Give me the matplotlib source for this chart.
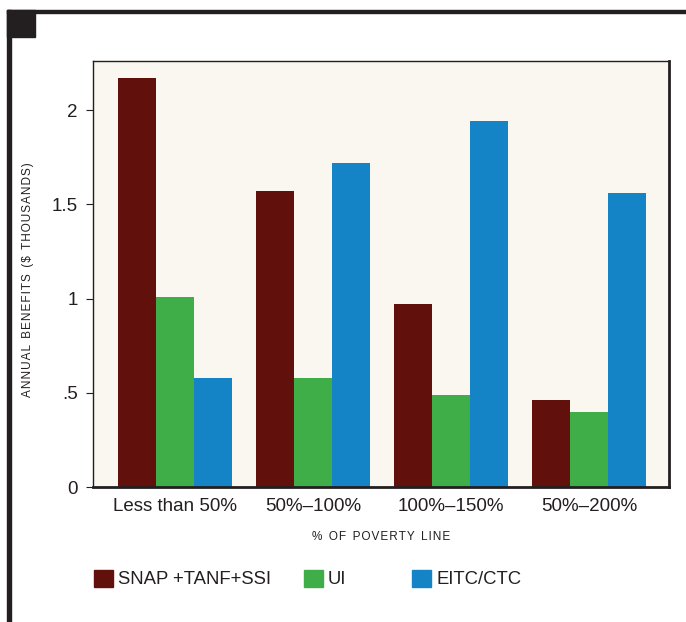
import matplotlib.pyplot as plt
import matplotlib.patches as mpatches
import numpy as np

plt.rcParams['font.family'] = ['Liberation Sans', 'DejaVu Sans']

categories = ['Less than 50%', '50%–100%', '100%–150%', '50%–200%']
snap = [2.17, 1.57, 0.97, 0.46]
ui = [1.01, 0.58, 0.49, 0.40]
eitc = [0.58, 1.72, 1.94, 1.56]
series_names = ['SNAP +TANF+SSI', 'UI', 'EITC/CTC']
colors = ['#62100c', '#3fae49', '#1484c6']
ink = '#231f20'

W, H = 686, 622
fig = plt.figure(figsize=(W / 100, H / 100), dpi=100)

# axes box in pixels
left, right, top, bottom = 93, 669, 61, 487
ax = fig.add_axes([left / W, 1 - bottom / H, (right - left) / W, (bottom - top) / H])
ax.set_facecolor('#faf6f0')

x = np.arange(len(categories))
w = 0.275
for i, (vals, c) in enumerate(zip([snap, ui, eitc], colors)):
    ax.bar(x + (i - 1) * w, vals, width=w, color=c, linewidth=0)

ax.set_xlim(-0.594, 3.58)
ax.set_ylim(0, 2.26)
ax.set_yticks([0, 0.5, 1, 1.5, 2])
ax.set_yticklabels(['0', '.5', '1', '1.5', '2'])
ax.set_xticks(x)
ax.set_xticklabels(categories)
ax.tick_params(axis='x', length=0, labelsize=13.5, pad=8, colors=ink)
ax.tick_params(axis='y', length=5, width=0.8, labelsize=13.5, pad=6, colors=ink, direction='out')
for s in ['top', 'left']:
    ax.spines[s].set_linewidth(1.0)
    ax.spines[s].set_color(ink)
for s in ['right', 'bottom']:
    ax.spines[s].set_linewidth(2.0)
    ax.spines[s].set_color(ink)

# spaced-out small caps style axis titles
ylab = 'ANNUAL BENEFITS ($ THOUSANDS)'
xlab = '% OF POVERTY LINE'
spaced = lambda s: '\u200a'.join(s).replace('\u200a \u200a', '  ')
fig.text(28 / W, 1 - 280 / H, spaced(ylab), rotation=90, fontsize=8.5,
         color=ink, ha='center', va='center')
fig.text(381 / W, 1 - 537 / H, spaced(xlab), fontsize=8.5,
         color=ink, ha='center', va='center')

# legend entries
leg_x = [94, 304, 412]
for name, c, lx in zip(series_names, colors, leg_x):
    fig.patches.append(mpatches.Rectangle((lx / W, 1 - 587 / H), 19 / W, 17 / H,
                                          transform=fig.transFigure, color=c))
    fig.text((lx + 24) / W, 1 - 579 / H, name, fontsize=13.3, va='center', color=ink)

# frame decorations
fig.patches.append(mpatches.Rectangle((7 / W, 1 - 13 / H), (W - 7) / W, 3 / H,
                                      transform=fig.transFigure, color=ink))
fig.patches.append(mpatches.Rectangle((7 / W, 0), 4 / W, 1 - 10 / H,
                                      transform=fig.transFigure, color=ink))
fig.patches.append(mpatches.Rectangle((7 / W, 1 - 37 / H), 28 / W, 27 / H,
                                      transform=fig.transFigure, color=ink))

fig.savefig('out.png', dpi=100)
